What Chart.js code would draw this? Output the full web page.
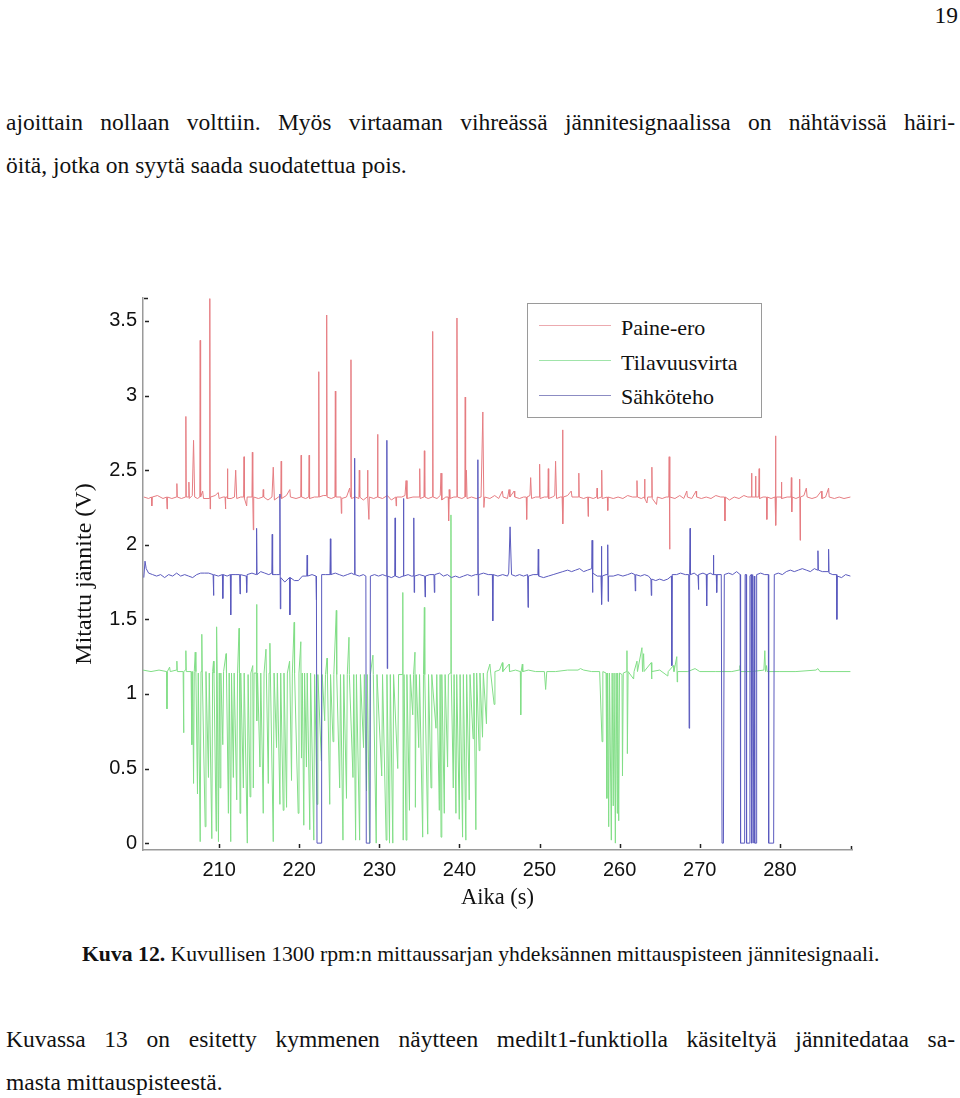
<!DOCTYPE html>
<html>
<head>
<meta charset="utf-8">
<script src="https://cdn.jsdelivr.net/npm/chart.js@4.4.0/dist/chart.umd.min.js"></script>
<style>
body{margin:0;background:#fff;width:960px;height:1098px;position:relative;overflow:hidden;font-family:"Liberation Serif","Times New Roman",serif;color:#111}
.t{position:absolute;font-size:23.5px;line-height:23.5px;white-space:nowrap}
.j{white-space:normal;text-align:justify;text-align-last:justify}
#wrap{position:absolute;left:0;top:280px;width:870px;height:640px}
#legend{position:absolute;left:527px;top:303px;width:233px;height:113px;border:1.5px solid #9a9a9a;background:#fff;font-size:22px;line-height:22px}
#legend .ln{position:absolute;left:11px;width:72px;height:1px}
#legend .lb{position:absolute;left:93px;white-space:nowrap}
.cap{position:absolute;left:82px;top:944px;font-size:21.7px;line-height:21.7px;white-space:nowrap}
</style>
</head>
<body>
<div class="t" style="right:2px;top:4px">19</div>
<div class="t j" style="left:6px;top:111px;width:949px">ajoittain nollaan volttiin. Myös virtaaman vihreässä jännitesignaalissa on nähtävissä häiri-</div>
<div class="t" style="left:6px;top:154px">öitä, jotka on syytä saada suodatettua pois.</div>

<div id="wrap"><canvas id="kuva"></canvas></div>

<div id="legend">
  <div class="ln" style="top:21px;background:rgb(236,170,175)"></div>
  <div class="lb" style="top:13px">Paine-ero</div>
  <div class="ln" style="top:56px;background:rgb(160,228,170)"></div>
  <div class="lb" style="top:48px">Tilavuusvirta</div>
  <div class="ln" style="top:91px;background:rgb(140,140,195)"></div>
  <div class="lb" style="top:82px">Sähköteho</div>
</div>

<div class="cap"><b>Kuva 12.</b> Kuvullisen 1300 rpm:n mittaussarjan yhdeksännen mittauspisteen jännitesignaali.</div>
<div class="t j" style="left:6px;top:1028px;width:949px">Kuvassa 13 on esitetty kymmenen näytteen medilt1-funktiolla käsiteltyä jännitedataa sa-</div>
<div class="t" style="left:6px;top:1071px">masta mittauspisteestä.</div>

<script>
// aika (s), jännite (V) luettu kuvasta
const paineEro = [[200.6,2.32],[201.2,2.31],[201.55,2.32],[201.6,2.26],[201.65,2.32],[202.3,2.33],[203.0,2.31],[203.45,2.32],[203.5,2.24],[203.55,2.32],[204.1,2.31],[204.68,2.32],[204.73,2.41],[204.78,2.32],[205.3,2.31],[205.8,2.32],[205.85,2.86],[205.9,2.32],[206.18,2.32],[206.23,2.42],[206.28,2.31],[206.65,2.33],[206.81,2.70],[206.95,2.32],[207.3,2.31],[207.59,2.32],[207.64,3.37],[207.69,2.32],[207.95,2.36],[208.05,2.31],[208.79,2.31],[208.84,3.65],[208.88,2.24],[208.93,2.32],[209.5,2.33],[209.9,2.35],[210.0,2.31],[210.5,2.32],[210.74,2.32],[210.79,2.24],[210.84,2.32],[210.99,2.32],[211.04,2.51],[211.09,2.31],[211.5,2.31],[211.92,2.32],[212.07,2.50],[212.2,2.31],[212.7,2.32],[213.06,2.32],[213.11,2.59],[213.16,2.31],[213.44,2.26],[213.5,2.32],[214.1,2.32],[214.15,2.62],[214.2,2.32],[214.27,2.10],[214.32,2.32],[214.9,2.31],[215.46,2.32],[215.51,2.37],[215.56,2.32],[216.1,2.30],[216.6,2.32],[216.76,2.52],[216.9,2.30],[217.4,2.32],[217.7,2.32],[217.75,2.56],[217.8,2.31],[218.4,2.33],[218.83,2.37],[218.9,2.32],[219.6,2.31],[220.19,2.32],[220.24,2.60],[220.29,2.32],[220.8,2.31],[221.19,2.32],[221.24,2.60],[221.29,2.31],[221.9,2.32],[222.39,2.32],[222.44,3.16],[222.49,2.32],[223.0,2.33],[223.38,2.33],[223.43,3.54],[223.48,2.32],[224.0,2.31],[224.46,2.32],[224.51,3.03],[224.56,2.32],[225.21,2.32],[225.26,2.21],[225.31,2.31],[225.9,2.32],[226.3,2.38],[226.41,2.32],[226.46,3.24],[226.51,2.31],[227.0,2.32],[227.45,2.31],[227.5,2.50],[227.55,2.32],[228.0,2.30],[228.48,2.32],[228.53,2.50],[228.58,2.32],[228.7,2.17],[228.75,2.32],[229.3,2.31],[229.73,2.32],[229.78,2.74],[229.83,2.32],[230.4,2.31],[231.0,2.33],[231.5,2.30],[232.05,2.32],[232.1,2.26],[232.15,2.32],[232.8,2.32],[233.2,2.33],[233.34,2.43],[233.45,2.31],[234.2,2.32],[234.99,2.32],[235.04,2.51],[235.09,2.31],[235.57,2.32],[235.62,2.63],[235.67,2.32],[236.1,2.31],[236.61,2.32],[236.66,3.43],[236.71,2.32],[237.2,2.31],[237.6,2.33],[237.7,2.48],[237.8,2.30],[238.3,2.32],[238.6,2.32],[238.65,2.16],[238.72,2.37],[238.8,2.31],[239.3,2.32],[239.64,2.32],[239.69,3.52],[239.74,2.32],[240.3,2.31],[240.67,2.32],[240.72,2.99],[240.77,2.32],[240.87,2.50],[240.95,2.31],[241.5,2.32],[242.1,2.31],[242.7,2.32],[242.92,2.89],[243.05,2.25],[243.15,2.32],[243.8,2.31],[244.4,2.33],[244.9,2.31],[245.36,2.36],[245.45,2.32],[246.0,2.31],[246.19,2.37],[246.3,2.32],[246.82,2.36],[246.9,2.32],[247.5,2.31],[248.0,2.32],[248.34,2.32],[248.39,2.17],[248.44,2.32],[248.8,2.33],[248.89,2.45],[249.0,2.31],[249.5,2.32],[249.96,2.32],[250.01,2.54],[250.06,2.31],[250.6,2.32],[251.04,2.32],[251.09,2.51],[251.14,2.31],[251.6,2.32],[251.9,2.33],[252.0,2.56],[252.12,2.31],[252.6,2.32],[252.82,2.32],[252.87,2.77],[252.92,2.14],[252.97,2.32],[253.5,2.33],[253.95,2.36],[254.05,2.32],[254.85,2.32],[254.9,2.48],[254.95,2.32],[255.5,2.31],[256.01,2.32],[256.06,2.19],[256.11,2.32],[256.7,2.31],[257.13,2.32],[257.18,2.38],[257.23,2.31],[257.71,2.32],[257.76,2.50],[257.81,2.31],[258.46,2.32],[258.51,2.23],[258.56,2.32],[259.2,2.31],[259.8,2.32],[260.4,2.31],[261.0,2.33],[261.6,2.32],[262.11,2.32],[262.16,2.43],[262.21,2.32],[262.7,2.31],[263.06,2.32],[263.11,2.44],[263.16,2.31],[263.4,2.28],[263.5,2.32],[263.97,2.32],[264.02,2.52],[264.07,2.31],[264.6,2.27],[264.7,2.32],[265.3,2.31],[265.8,2.32],[266.13,2.32],[266.18,2.59],[266.23,1.97],[266.28,2.32],[266.9,2.31],[267.5,2.33],[268.0,2.31],[268.38,2.36],[268.45,2.32],[269.0,2.31],[269.54,2.36],[269.6,2.32],[270.2,2.31],[270.8,2.32],[271.4,2.31],[272.0,2.33],[272.6,2.32],[273.09,2.32],[273.14,2.16],[273.19,2.32],[273.7,2.30],[274.3,2.32],[274.9,2.31],[275.5,2.33],[276.0,2.32],[276.41,2.32],[276.46,2.48],[276.51,2.32],[276.91,2.32],[276.96,2.46],[277.01,2.32],[277.36,2.32],[277.41,2.51],[277.46,2.31],[277.9,2.32],[278.32,2.32],[278.37,2.17],[278.42,2.32],[278.9,2.31],[279.4,2.32],[279.45,2.73],[279.5,2.13],[279.55,2.32],[280.14,2.32],[280.19,2.42],[280.24,2.31],[280.9,2.32],[281.38,2.32],[281.43,2.45],[281.48,2.22],[281.53,2.32],[282.0,2.31],[282.42,2.32],[282.47,2.44],[282.52,2.03],[282.57,2.32],[283.0,2.33],[283.3,2.38],[283.4,2.32],[284.0,2.31],[284.6,2.32],[285.17,2.36],[285.25,2.31],[285.7,2.32],[286.08,2.38],[286.15,2.32],[286.8,2.31],[287.4,2.32],[288.0,2.31],[288.8,2.32]];

const tilavuusvirta = [[200.5,1.16],[201.5,1.15],[202.5,1.16],[203.44,1.15],[203.49,0.90],[203.54,1.15],[203.82,1.18],[203.9,1.15],[204.68,1.16],[204.73,1.22],[204.78,1.15],[205.51,1.15],[205.56,0.74],[205.61,1.15],[205.8,1.16],[205.85,1.29],[205.9,1.15],[206.5,1.15],[206.6,0.66],[206.7,1.15],[206.81,0.40],[206.9,1.15],[207.02,1.28],[207.1,1.15],[207.3,0.33],[207.4,1.14],[207.64,0.01],[207.74,1.15],[207.84,1.40],[207.9,1.14],[208.26,0.11],[208.36,1.15],[208.67,0.44],[208.77,1.14],[209.09,0.03],[209.19,1.15],[209.3,1.22],[209.36,1.14],[209.63,0.08],[209.67,1.15],[209.71,1.45],[209.76,1.14],[209.92,0.01],[210.02,1.14],[210.12,0.37],[210.22,1.14],[210.46,0.66],[210.56,1.15],[210.87,1.27],[210.92,1.14],[211.16,0.20],[211.26,1.14],[211.45,0.01],[211.55,1.14],[211.78,0.44],[211.88,1.14],[212.2,0.29],[212.3,1.14],[212.49,1.44],[212.54,1.14],[212.61,0.20],[212.7,1.14],[213.03,0.37],[213.13,1.14],[213.52,0.0],[213.62,1.13],[213.86,0.31],[213.96,1.14],[214.2,1.19],[214.27,0.37],[214.37,1.14],[214.63,1.14],[214.68,1.60],[214.72,0.82],[214.8,1.14],[215.1,0.51],[215.2,1.14],[215.51,0.20],[215.61,1.14],[215.85,1.30],[215.9,1.14],[216.14,0.40],[216.24,1.14],[216.34,1.34],[216.4,1.14],[216.76,0.01],[216.86,1.14],[217.17,0.64],[217.27,1.14],[217.59,0.26],[217.69,1.14],[218.0,0.22],[218.1,1.14],[218.42,0.24],[218.52,1.14],[218.8,1.22],[219.04,0.42],[219.14,1.14],[219.37,1.48],[219.42,1.14],[219.87,0.20],[219.97,1.14],[220.2,1.35],[220.28,0.57],[220.38,1.14],[220.57,0.12],[220.67,1.14],[220.9,0.51],[221.0,1.14],[221.32,0.09],[221.42,1.14],[221.82,0.02],[221.92,1.13],[222.23,0.26],[222.33,1.13],[222.77,0.55],[222.87,1.13],[223.18,0.82],[223.28,1.13],[223.47,1.24],[223.52,1.13],[223.81,0.26],[223.91,1.13],[224.22,0.68],[224.32,1.13],[224.63,1.56],[224.68,1.13],[225.05,0.37],[225.15,1.13],[225.46,0.02],[225.56,1.13],[225.9,0.30],[226.0,1.13],[226.21,1.38],[226.26,1.13],[226.71,0.44],[226.81,1.13],[227.04,0.02],[227.14,1.13],[227.54,0.02],[227.64,1.13],[228.03,0.64],[228.13,1.13],[228.4,0.35],[228.5,1.13],[228.78,0.0],[228.88,1.13],[229.2,1.26],[229.25,1.13],[229.61,0.0],[229.71,1.13],[230.3,0.45],[230.4,1.13],[230.85,0.02],[230.95,1.13],[231.27,0.0],[231.37,1.13],[231.68,0.0],[231.78,1.13],[232.3,0.5],[232.4,1.13],[232.88,1.13],[232.93,1.68],[232.98,0.02],[233.08,1.13],[233.34,0.02],[233.44,1.13],[233.76,0.22],[233.86,1.13],[234.17,0.86],[234.27,1.13],[234.45,1.28],[234.5,0.24],[234.6,1.13],[234.92,0.64],[235.02,1.13],[235.41,0.04],[235.51,1.13],[235.62,1.58],[235.67,1.13],[236.04,0.06],[236.14,1.13],[236.45,0.37],[236.55,1.13],[237.07,0.77],[237.17,1.13],[237.49,0.22],[237.59,1.13],[237.7,0.04],[237.8,1.13],[238.11,0.20],[238.21,1.13],[238.52,0.51],[238.62,1.13],[238.9,1.14],[238.94,2.20],[238.98,1.13],[239.23,0.37],[239.33,1.13],[239.56,0.20],[239.66,1.13],[239.98,0.16],[240.08,1.13],[240.39,0.04],[240.49,1.13],[240.8,0.02],[240.9,1.13],[241.22,0.29],[241.32,1.13],[241.7,0.70],[241.8,1.14],[242.05,0.09],[242.15,1.14],[242.46,0.62],[242.56,1.14],[242.88,0.71],[242.98,1.14],[243.37,0.80],[243.47,1.14],[243.8,1.20],[243.9,1.14],[244.33,0.93],[244.43,1.15],[245.0,1.16],[245.36,1.21],[245.42,1.15],[246.19,1.20],[246.25,1.15],[247.0,1.16],[247.6,1.15],[247.65,0.86],[247.7,1.15],[247.85,1.20],[247.9,1.15],[248.6,1.16],[249.5,1.15],[250.6,1.15],[250.76,1.03],[250.9,1.15],[252.0,1.15],[253.5,1.16],[254.8,1.16],[255.11,1.17],[255.5,1.16],[256.5,1.15],[257.5,1.15],[257.8,0.68],[257.9,1.15],[258.3,1.14],[258.4,0.30],[258.5,1.14],[258.63,0.11],[258.73,1.14],[258.96,0.02],[259.06,1.14],[259.2,0.25],[259.3,1.14],[259.46,0.0],[259.56,1.14],[259.7,0.20],[259.75,1.14],[259.88,0.15],[259.98,1.14],[260.29,1.13],[260.35,0.45],[260.45,1.14],[260.86,1.15],[260.91,1.29],[260.96,0.60],[261.05,1.15],[261.74,1.10],[261.8,1.15],[262.16,1.22],[262.22,1.15],[262.78,1.31],[262.85,1.15],[262.99,1.27],[263.05,1.15],[263.94,1.21],[263.98,1.10],[264.03,1.15],[265.0,1.16],[266.01,1.12],[266.06,1.15],[266.72,1.19],[266.78,1.15],[267.13,1.25],[267.18,1.08],[267.23,1.15],[268.5,1.15],[269.41,1.17],[270.0,1.15],[272.0,1.15],[274.0,1.15],[274.9,1.16],[275.01,1.19],[275.1,1.15],[276.5,1.15],[278.0,1.16],[278.12,1.29],[278.2,1.15],[278.33,1.19],[278.4,1.15],[280.0,1.15],[282.0,1.15],[284.5,1.16],[284.75,1.17],[285.0,1.15],[287.0,1.15],[288.8,1.15]];

const sahkoteho = [[200.6,1.78],[200.75,1.89],[200.9,1.84],[201.2,1.81],[201.7,1.80],[202.2,1.79],[202.7,1.80],[203.2,1.78],[203.7,1.80],[204.2,1.79],[204.7,1.81],[205.2,1.79],[205.7,1.80],[206.2,1.79],[206.7,1.78],[207.2,1.80],[207.7,1.81],[208.2,1.81],[208.7,1.81],[209.25,1.80],[209.3,1.66],[209.35,1.80],[209.9,1.79],[210.41,1.80],[210.46,1.64],[210.51,1.80],[211.0,1.79],[211.4,1.80],[211.45,1.53],[211.5,1.80],[212.1,1.80],[212.56,1.80],[212.61,1.67],[212.66,1.80],[213.39,1.79],[213.44,1.68],[213.49,1.80],[214.1,1.81],[214.63,1.80],[214.68,2.11],[214.73,1.80],[215.2,1.82],[215.7,1.81],[216.2,1.80],[216.58,1.81],[216.63,2.07],[216.68,1.80],[217.2,1.80],[217.54,1.80],[217.59,2.34],[217.64,1.57],[217.7,1.78],[218.2,1.75],[218.78,1.78],[218.83,1.53],[218.88,1.78],[219.4,1.76],[219.9,1.76],[220.4,1.79],[220.94,1.79],[220.99,1.93],[221.04,1.79],[221.6,1.80],[222.1,1.79],[222.15,1.63],[222.22,0.0],[222.75,0.0],[222.8,1.80],[223.3,1.80],[223.84,1.80],[223.89,2.04],[223.94,1.80],[224.5,1.81],[225.0,1.80],[225.5,1.79],[226.0,1.80],[226.5,1.81],[226.87,1.80],[226.92,2.58],[226.97,1.80],[227.5,1.79],[228.0,1.80],[228.32,1.79],[228.37,0.0],[228.83,0.0],[228.88,1.79],[229.4,1.80],[229.9,1.79],[230.4,1.80],[230.89,1.79],[230.94,2.70],[230.99,1.17],[231.04,1.79],[231.5,1.78],[231.92,1.79],[231.97,2.18],[232.02,1.79],[232.5,1.78],[232.96,1.79],[233.01,2.31],[233.06,1.79],[233.6,1.80],[234.0,1.79],[234.25,1.79],[234.3,2.18],[234.35,1.68],[234.4,1.79],[235.0,1.80],[235.66,1.79],[235.71,1.65],[235.76,1.79],[236.3,1.80],[236.82,1.80],[236.87,1.68],[236.92,1.80],[237.5,1.81],[238.0,1.79],[238.5,1.80],[239.0,1.78],[239.5,1.79],[240.0,1.78],[240.5,1.79],[241.0,1.80],[241.5,1.79],[242.0,1.80],[242.25,1.80],[242.3,2.57],[242.35,1.66],[242.4,1.80],[243.0,1.81],[243.6,1.80],[244.11,1.80],[244.16,1.49],[244.21,1.80],[244.8,1.79],[245.4,1.80],[246.0,1.79],[246.15,1.81],[246.32,2.12],[246.5,1.80],[247.0,1.79],[247.5,1.80],[248.0,1.79],[248.51,1.80],[248.56,1.58],[248.61,1.79],[249.2,1.80],[249.79,1.80],[249.84,1.97],[249.89,1.79],[250.5,1.78],[251.1,1.79],[251.7,1.80],[252.3,1.81],[252.9,1.82],[253.5,1.83],[254.0,1.82],[254.5,1.83],[255.0,1.84],[255.5,1.82],[256.0,1.83],[256.51,1.84],[256.56,2.03],[256.61,1.68],[256.66,1.81],[257.2,1.79],[257.67,1.79],[257.72,1.99],[257.77,1.60],[257.82,1.79],[258.3,1.80],[258.46,1.80],[258.51,2.00],[258.56,1.62],[258.61,1.79],[259.2,1.79],[259.8,1.80],[260.4,1.79],[261.0,1.80],[261.5,1.81],[261.9,1.80],[261.95,1.69],[262.0,1.80],[262.6,1.79],[263.1,1.80],[263.6,1.79],[263.9,1.77],[263.95,1.66],[264.0,1.77],[264.5,1.76],[265.0,1.77],[265.5,1.76],[266.0,1.77],[266.46,1.79],[266.51,1.19],[266.56,1.80],[267.1,1.80],[267.6,1.81],[268.2,1.80],[268.62,1.80],[268.67,0.77],[268.73,1.80],[268.79,2.11],[268.84,1.80],[269.3,1.81],[269.78,1.79],[269.83,1.70],[269.88,1.80],[270.4,1.81],[270.81,1.80],[270.86,1.59],[270.91,1.80],[271.3,1.81],[271.65,1.80],[271.7,1.93],[271.75,1.80],[272.06,1.80],[272.11,1.68],[272.16,1.80],[272.68,1.80],[272.78,0.0],[272.95,0.0],[273.06,1.80],[273.6,1.81],[274.1,1.80],[274.6,1.82],[275.04,1.80],[275.09,0.0],[275.6,0.0],[275.66,1.80],[275.79,1.80],[275.84,0.0],[276.2,0.0],[276.26,1.79],[276.4,1.80],[276.46,0.0],[276.6,1.80],[276.66,0.0],[276.8,1.79],[276.86,0.0],[277.03,0.0],[277.1,1.80],[277.6,1.81],[278.1,1.80],[278.55,1.80],[278.6,0.0],[279.22,0.0],[279.3,1.80],[279.8,1.81],[280.3,1.80],[280.8,1.82],[281.3,1.83],[281.8,1.82],[282.3,1.83],[282.8,1.84],[283.3,1.83],[283.8,1.82],[284.3,1.84],[284.7,1.83],[284.75,1.96],[284.8,1.83],[285.3,1.82],[286.03,1.82],[286.08,1.97],[286.13,1.81],[286.6,1.80],[287.06,1.80],[287.11,1.50],[287.16,1.79],[287.7,1.78],[288.2,1.80],[288.8,1.79]];

const xTicks = [210, 220, 230, 240, 250, 260, 270, 280];
const yTicks = [0, 0.5, 1, 1.5, 2, 2.5, 3, 3.5];

const pisteet = arr => arr.map(p => ({x: p[0], y: p[1]}));

// matlab-tyyliset sisäänpäin osoittavat tikit
const sisaTikit = {
    id: 'sisaTikit',
    afterDraw(chart) {
        const {ctx, chartArea, scales} = chart;
        ctx.save();
        ctx.strokeStyle = '#222';
        ctx.lineWidth = 1.5;
        ctx.beginPath();
        yTicks.forEach(v => {
            const y = Math.round(scales.y.getPixelForValue(v)) + 0.5;
            ctx.moveTo(chartArea.left + 2, y);
            ctx.lineTo(chartArea.left + 6, y);
        });
        xTicks.forEach(v => {
            const x = Math.round(scales.x.getPixelForValue(v)) + 0.5;
            ctx.moveTo(x, chartArea.bottom - 2);
            ctx.lineTo(x, chartArea.bottom - 6);
        });
        ctx.moveTo(chartArea.left + 1, chartArea.top + 0.5);
        ctx.lineTo(chartArea.left + 5, chartArea.top + 0.5);
        ctx.moveTo(chartArea.right - 0.5, chartArea.bottom - 1);
        ctx.lineTo(chartArea.right - 0.5, chartArea.bottom - 4);
        ctx.stroke();
        ctx.restore();
    }
};

const sarja = (data, color, order) => ({
    data: pisteet(data),
    borderColor: color,
    borderWidth: 1,
    pointRadius: 0,
    tension: 0,
    fill: false,
    order: order
});

new Chart(document.getElementById('kuva'), {
    type: 'line',
    data: {
        datasets: [
            sarja(paineEro, 'rgb(230,125,130)', 1),
            sarja(tilavuusvirta, 'rgb(130,222,135)', 2),
            sarja(sahkoteho, 'rgb(90,90,190)', 0)
        ]
    },
    options: {
        responsive: true,
        maintainAspectRatio: false,
        animation: false,
        layout: {padding: {top: 13, right: 18, left: 0, bottom: 0}},
        plugins: {legend: {display: false}, tooltip: {enabled: false}},
        scales: {
            x: {
                type: 'linear',
                min: 200.5,
                max: 289,
                afterFit: s => { s.height = 70; },
                afterBuildTicks: s => { s.ticks = xTicks.map(v => ({value: v})); },
                grid: {display: false, drawTicks: false},
                border: {display: true, color: '#9a9a9a', width: 1.5},
                ticks: {color: '#111', padding: 8, callback: v => String(v),
                        font: {family: 'Liberation Sans, Arial, sans-serif', size: 20}},
                title: {display: true, text: 'Aika (s)', color: '#111', padding: {top: 0, bottom: 8},
                        font: {family: 'Liberation Serif, Times New Roman, serif', size: 22.5}}
            },
            y: {
                type: 'linear',
                min: -0.046,
                max: 3.654,
                afterFit: s => { s.width = 143; },
                afterBuildTicks: s => { s.ticks = yTicks.map(v => ({value: v})); },
                grid: {display: false, drawTicks: false},
                border: {display: true, color: '#9a9a9a', width: 1.5},
                ticks: {color: '#111', padding: 6, callback: v => String(v),
                        font: {family: 'Liberation Sans, Arial, sans-serif', size: 20}},
                title: {display: true, text: 'Mitattu jännite (V)', color: '#111', padding: {top: 70, bottom: 0},
                        font: {family: 'Liberation Serif, Times New Roman, serif', size: 24}}
            }
        }
    },
    plugins: [sisaTikit]
});
</script>
</body>
</html>
